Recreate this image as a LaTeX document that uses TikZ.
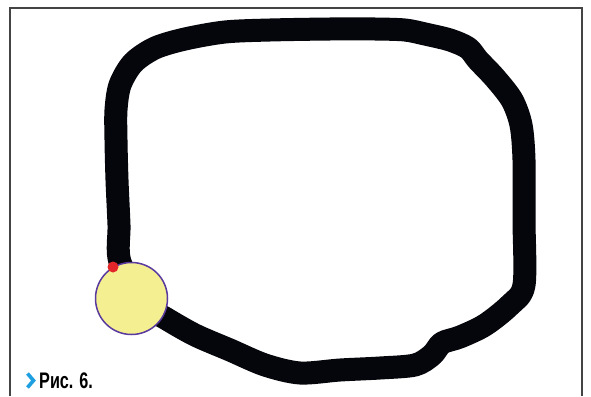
\documentclass[tikz,border=0pt]{standalone}
\usepackage{fontspec}
\setmainfont{Liberation Sans}
\definecolor{trackblack}{HTML}{05060B}
\definecolor{ballyellow}{HTML}{F4EF90}
\definecolor{ballpurple}{HTML}{5A3A9E}
\definecolor{dotred}{HTML}{E3262A}
\definecolor{framegray}{HTML}{444444}
\definecolor{chevblue}{HTML}{1E9FE0}
\tikzset{
  track/.style={draw=trackblack, line width=23pt, line join=round, line cap=round},
  ball/.style={circle, draw=ballpurple, line width=1.5pt, fill=ballyellow, minimum size=72pt, inner sep=0pt},
  sensor/.style={circle, fill=dotred, minimum size=11pt, inner sep=0pt},
  framelines/.style={draw=framegray, line width=1.4pt},
  captext/.style={anchor=base west, inner sep=0pt, font=\bfseries\fontsize{22.5}{22.5}\selectfont}
}
\begin{document}
\begin{tikzpicture}[x=1pt, y=-1pt]
\useasboundingbox (0,0) rectangle (591,396);
\fill[white] (0,0) rectangle (591,396);
% frame (open at the bottom)
\draw[framelines] (10,396) -- (10,8) -- (582,8) -- (582,396);
% black track
\draw[track] plot[smooth cycle, tension=0.5] coordinates {
 (120,262) (119,225) (117,180) (116,140) (116,110) (120,85) (133,63) (155,48)
 (185,39) (225,32) (270,30) (330,29) (375,29) (405,30) (425,34) (450,40)
 (468,48) (478,60) (495,78) (512,100) (521,125) (524,160) (524,220) (524,285)
 (510,305) (485,325) (460,337) (442,343) (432,355) (415,365) (380,368) (340,370)
 (300,373) (265,365) (230,350) (195,335) (165,318) (145,305)};
% robot
\node[ball] (robot) at (131.5,298.5) {};
\node[sensor] (sensor) at (113,267) {};
% caption
\draw[chevblue, line width=3.6pt, line join=miter] (27.5,373.5) -- (33.5,380.5) -- (27.5,387.5);
\node[captext] (cap) at (39,388.5) {\scalebox{0.72}[1]{Рис. 6.}};
\end{tikzpicture}
\end{document}
